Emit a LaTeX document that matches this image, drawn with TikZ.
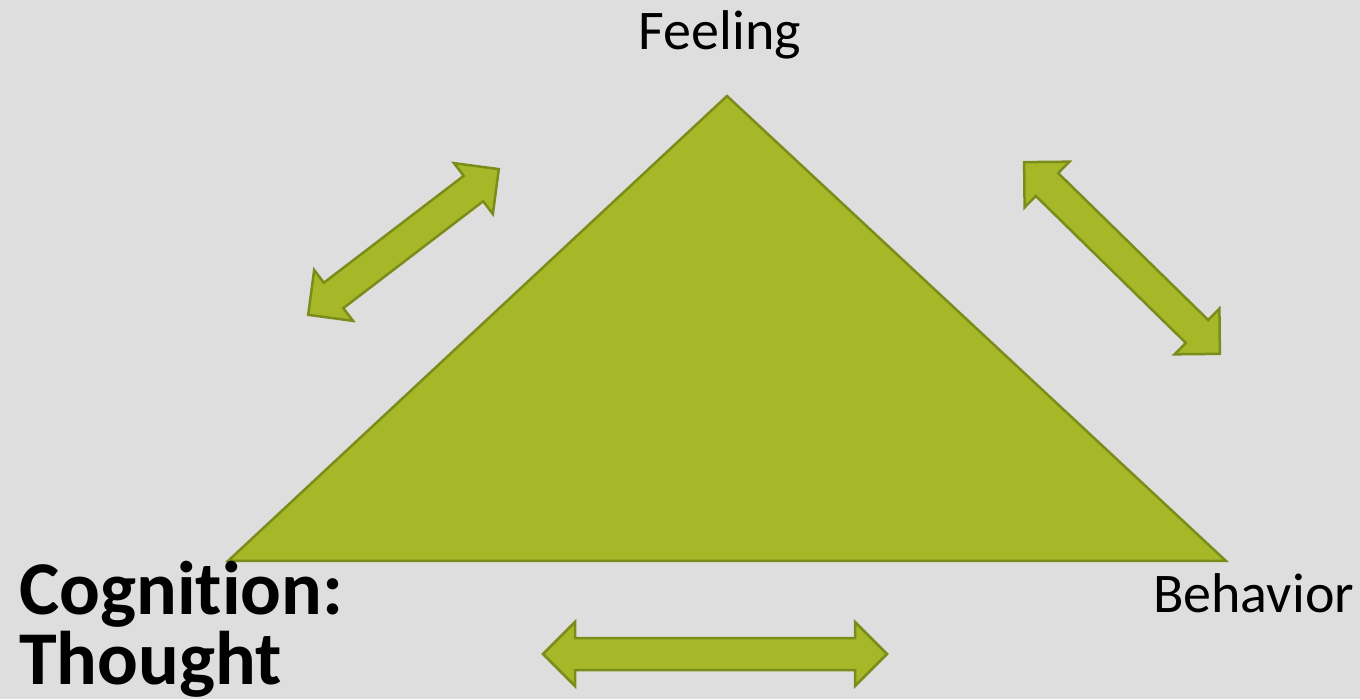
\documentclass[tikz,border=0pt]{standalone}
\usepackage{fontspec}
\setmainfont{Carlito}[Ligatures=NoCommon]
\usetikzlibrary{positioning}

\definecolor{bgray}{HTML}{DEDEDE}
\definecolor{olivefill}{HTML}{A6B828}
\definecolor{olivedraw}{HTML}{7B8C1A}

% double headed block arrow of half length #1, centred at the origin
\newcommand{\blockarrow}[1]{%
  (-#1,0) -- (-#1+32,32) -- (-#1+32,16) -- (#1-32,16) -- (#1-32,32) -- (#1,0)
  -- (#1-32,-32) -- (#1-32,-16) -- (-#1+32,-16) -- (-#1+32,-32) -- cycle}

\begin{document}
\begin{tikzpicture}[x=1pt, y=1pt,
    oliveshape/.style={fill=olivefill, draw=olivedraw, line width=2.5pt, line join=miter},
    corner/.style={inner sep=0pt}]
    % Background
    \fill[bgray] (0,0) rectangle (1360,699);
    \useasboundingbox (0,0) rectangle (1360,699);

    % Triangle
    \draw[oliveshape] (727,603) -- (228,138) -- (1226,138) -- cycle;

    % Arrows between the corners
    \begin{scope}[shift={(403.5,457)}, rotate=37.4]
        \draw[oliveshape] \blockarrow{120};
    \end{scope}
    \begin{scope}[shift={(1122,441)}, rotate=-44.4]
        \draw[oliveshape] \blockarrow{137};
    \end{scope}
    \begin{scope}[shift={(715,45)}]
        \draw[oliveshape] \blockarrow{172};
    \end{scope}

    % Labels
    \node[corner, anchor=base, font=\fontsize{56}{67}\selectfont] (feeling) at (720,649) {Feeling};
    \node[corner, anchor=base west, font=\fontsize{56}{67}\selectfont] (behavior) at (1153,87) {Behavior};
    \node[corner, anchor=base west, align=left, font=\fontsize{76}{70}\selectfont\bfseries]
        (cognition) at (19,15) {Cognition:\\Thought};
\end{tikzpicture}
\end{document}
